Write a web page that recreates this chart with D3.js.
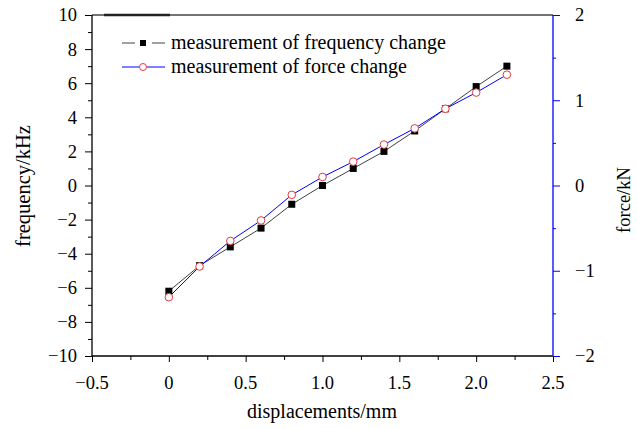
<!DOCTYPE html>
<html><head><meta charset="utf-8">
<script src="https://cdn.jsdelivr.net/npm/d3@7"></script>
<style>html,body{margin:0;padding:0;background:#fff;}svg{display:block;}text{font-family:"Liberation Serif","Times New Roman",serif;}</style>
</head><body>
<script>
const displacements = [0, 0.2, 0.4, 0.6, 0.8, 1.0, 1.2, 1.4, 1.6, 1.8, 2.0, 2.2];
const frequency = [-6.2, -4.7, -3.6, -2.5, -1.1, 0.0, 1.0, 2.0, 3.2, 4.5, 5.8, 7.0];
const force = [-1.31, -0.95, -0.65, -0.41, -0.11, 0.10, 0.28, 0.48, 0.67, 0.90, 1.09, 1.30];
const xTicks = [-0.5, 0, 0.5, 1.0, 1.5, 2.0, 2.5];
const xTickLabels = ["\u22120.5", "0", "0.5", "1.0", "1.5", "2.0", "2.5"];
const leftTicks = [10, 8, 6, 4, 2, 0, -2, -4, -6, -8, -10];
const rightTicks = [2, 1, 0, -1, -2];
const seriesNames = ["measurement of frequency change", "measurement of force change"];

const W = 637, H = 429;
const L = 92, R = 553, T = 15, B = 356;
const svg = d3.select("body").append("svg").attr("width", W).attr("height", H);
const x = d3.scaleLinear().domain([-0.5, 2.5]).range([L, R]);
const yL = d3.scaleLinear().domain([-10, 10]).range([B, T]);
const yR = d3.scaleLinear().domain([-2, 2]).range([B, T]);
const fmt = v => (v < 0 ? "\u2212" + Math.abs(v) : String(v));

// top frame line
svg.append("line").attr("x1", L).attr("x2", R).attr("y1", T).attr("y2", T)
  .attr("stroke", "#444").attr("stroke-width", 1.3);
svg.append("line").attr("x1", 104).attr("x2", 170).attr("y1", T).attr("y2", T)
  .attr("stroke", "#222").attr("stroke-width", 2.6);

// bottom axis
const gx = svg.append("g").attr("transform", `translate(0,${B})`);
gx.call(d3.axisBottom(x).tickValues(d3.range(-0.5, 2.51, 0.25)).tickSize(6).tickFormat(""))
  .call(g => g.select(".domain").remove());
gx.selectAll(".tick line").attr("stroke", "#000").attr("y2", (d) => Math.abs(d * 2 - Math.round(d * 2)) < 1e-6 ? 6 : 4);
gx.append("line").attr("x1", L).attr("x2", R).attr("stroke", "#000").attr("stroke-width", 1.3);
xTicks.forEach((v, i) => {
  gx.append("text").attr("x", x(v)).attr("y", 33).attr("text-anchor", "middle")
    .attr("font-size", 18.5).attr("fill", "#000").text(xTickLabels[i]);
});

// left axis
const gl = svg.append("g").attr("transform", `translate(${L},0)`);
gl.call(d3.axisLeft(yL).tickValues(d3.range(-10, 10.1, 1)).tickSize(7).tickFormat(""))
  .call(g => g.select(".domain").remove());
gl.selectAll(".tick line").attr("stroke", "#000").attr("x2", d => (Math.round(d) % 2 === 0) ? -7 : -4);
gl.append("line").attr("y1", T).attr("y2", B).attr("stroke", "#000").attr("stroke-width", 1.3);
leftTicks.forEach(v => {
  gl.append("text").attr("x", -15).attr("y", yL(v)).attr("dy", "0.35em").attr("text-anchor", "end")
    .attr("font-size", 18.5).attr("fill", "#000").text(fmt(v));
});

// right axis (blue)
const gr = svg.append("g").attr("transform", `translate(${R},0)`);
gr.call(d3.axisRight(yR).tickValues(d3.range(-2, 2.01, 0.5)).tickSize(7).tickFormat(""))
  .call(g => g.select(".domain").remove());
gr.selectAll(".tick line").attr("stroke", "#0000ff").attr("x2", d => Math.abs(d - Math.round(d)) < 1e-6 ? 7 : 3);
gr.append("line").attr("y1", T).attr("y2", B).attr("stroke", "#0000ff").attr("stroke-width", 1.3);
rightTicks.forEach(v => {
  gr.append("text").attr("x", 22).attr("y", yR(v)).attr("dy", "0.35em").attr("text-anchor", "start")
    .attr("font-size", 18.5).attr("fill", "#000").text(fmt(v));
});

// axis titles
svg.append("text").attr("x", 322).attr("y", 418).attr("text-anchor", "middle")
  .attr("font-size", 20).text("displacements/mm");
svg.append("text").attr("transform", "translate(30,186) rotate(-90)").attr("text-anchor", "middle")
  .attr("font-size", 20.5).text("frequency/kHz");
svg.append("text").attr("transform", "translate(630,200) rotate(-90)").attr("text-anchor", "middle")
  .attr("font-size", 18.5).text("force/kN");

// series lines
const lineF = d3.line().x((d, i) => x(displacements[i])).y(d => yL(d));
const lineK = d3.line().x((d, i) => x(displacements[i])).y(d => yR(d));
svg.append("path").attr("d", lineF(frequency)).attr("fill", "none").attr("stroke", "#404040").attr("stroke-width", 1);
svg.append("path").attr("d", lineK(force)).attr("fill", "none").attr("stroke", "#0000ff").attr("stroke-width", 1);

// markers
const sq = 7;
svg.append("g").selectAll("rect").data(frequency).join("rect")
  .attr("x", (d, i) => x(displacements[i]) - sq / 2).attr("y", d => yL(d) - sq / 2)
  .attr("width", sq).attr("height", sq).attr("fill", "#000");
svg.append("g").selectAll("circle").data(force).join("circle")
  .attr("cx", (d, i) => x(displacements[i])).attr("cy", d => yR(d)).attr("r", 3.8)
  .attr("fill", "#fff").attr("stroke", "#e8383d").attr("stroke-width", 1);

// legend
const lg = svg.append("g");
const rows = [43, 67];
lg.append("line").attr("x1", 122).attr("x2", 135).attr("y1", rows[0]).attr("y2", rows[0]).attr("stroke", "#404040");
lg.append("line").attr("x1", 152).attr("x2", 165).attr("y1", rows[0]).attr("y2", rows[0]).attr("stroke", "#404040");
lg.append("rect").attr("x", 143 - 3).attr("y", rows[0] - 3).attr("width", 6).attr("height", 6).attr("fill", "#000");
lg.append("line").attr("x1", 122).attr("x2", 139).attr("y1", rows[1]).attr("y2", rows[1]).attr("stroke", "#0000ff");
lg.append("line").attr("x1", 147).attr("x2", 165).attr("y1", rows[1]).attr("y2", rows[1]).attr("stroke", "#0000ff");
lg.append("circle").attr("cx", 143).attr("cy", rows[1]).attr("r", 3.5).attr("fill", "#fff").attr("stroke", "#e8383d");
seriesNames.forEach((s, i) => {
  lg.append("text").attr("x", 171).attr("y", rows[i] + 6).attr("font-size", 20).attr("fill", "#000").text(s);
});
</script>
</body></html>
